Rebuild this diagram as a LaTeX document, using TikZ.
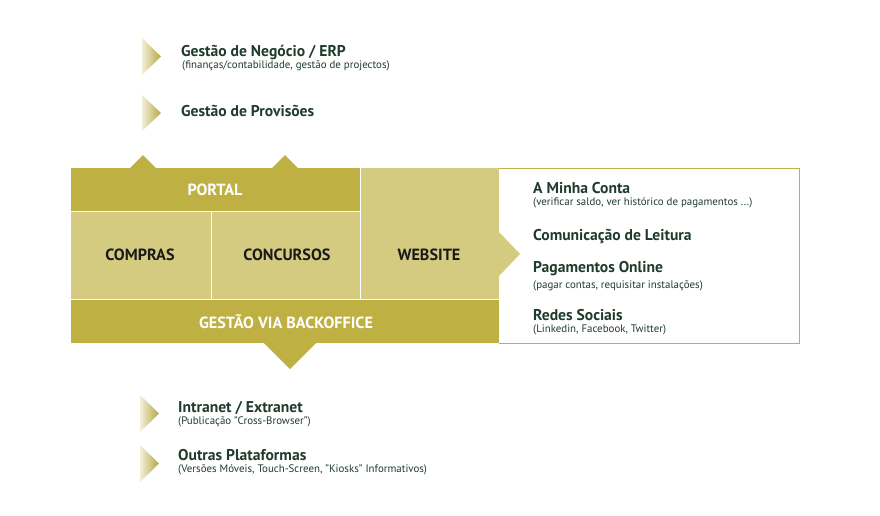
\documentclass[tikz,border=0pt]{standalone}
\usepackage{fontspec}
\setmainfont{PT Sans}
\newfontfamily\hdfont{PT Sans}
\newfontfamily\lbfont{PT Sans}
\definecolor{oliveD}{HTML}{BEB042}
\definecolor{oliveL}{HTML}{D4CB81}
\definecolor{txtG}{HTML}{1F3B2B}
\definecolor{txtB}{HTML}{1A1A1A}
\tikzset{
  head/.style={anchor=base west, inner sep=0pt, text=txtG, font=\hdfont\bfseries\fontsize{15.6}{17}\selectfont},
  sub/.style={anchor=base west, inner sep=0pt, text=txtG, font=\fontsize{10.9}{12}\selectfont},
  boxlbl/.style={inner sep=0pt, font=\lbfont\bfseries\fontsize{16.2}{18}\selectfont},
  wlbl/.style={boxlbl, text=white},
  dlbl/.style={boxlbl, text=txtB},
  sep/.style={draw=white, line width=1pt},
  bullet/.style={left color=oliveD!20, right color=oliveD!95!black}
}
\begin{document}
\begin{tikzpicture}[x=1pt,y=-1pt]
\useasboundingbox (0,0) rectangle (880,515);
% outer right box
\draw[oliveD, line width=0.8pt] (499,168.5) -- (799,168.5) -- (799,343) -- (499,343);
% blocks
\fill[oliveD] (71,168) rectangle (360,211);
\fill[oliveD] (130,168) -- (143,155) -- (156,168) -- cycle;
\fill[oliveD] (272,168) -- (285,155) -- (298,168) -- cycle;
\fill[oliveL] (71,211) rectangle (360,299);
\fill[oliveL] (360,168) rectangle (499,299);
\fill[oliveL] (499,232) -- (520,254) -- (499,276) -- cycle;
\fill[oliveD] (71,299) rectangle (499,343);
\fill[oliveD] (264,343) -- (290,369) -- (316,343) -- cycle;
% separators
\draw[sep] (71,211) -- (360,211);
\draw[sep] (211,211) -- (211,299);
\draw[sep] (360,168) -- (360,299);
\draw[sep] (71,299) -- (499,299);
% labels
\node[wlbl] (portal) at (215,190) {PORTAL};
\node[dlbl] (compras) at (140,255) {COMPRAS};
\node[dlbl] (concursos) at (287,255) {CONCURSOS};
\node[dlbl] (website) at (429,255) {WEBSITE};
\node[wlbl] (backoffice) at (286,322) {GESTÃO VIA BACKOFFICE};
% side bullets
\shade[bullet] (142,38) -- (161,56.5) -- (142,75) -- cycle;
\shade[bullet] (142,95) -- (161,113) -- (142,131) -- cycle;
\shade[bullet] (140,395) -- (159,413.5) -- (140,432) -- cycle;
\shade[bullet] (140,445) -- (159,463.5) -- (140,482) -- cycle;
% top texts
\node[head] (erp) at (181,56) {Gestão de Negócio / ERP};
\node[sub] (erps) at (182,68) {(finanças/contabilidade, gestão de projectos)};
\node[head] (prov) at (181,116) {Gestão de Provisões};
% right texts
\node[head] (conta) at (533,193) {A Minha Conta};
\node[sub] (contas) at (533,205) {(verificar saldo, ver histórico de pagamentos ...)};
\node[head] (leit) at (533,240) {Comunicação de Leitura};
\node[head] (pag) at (533,272) {Pagamentos Online};
\node[sub] (pags) at (533,288) {(pagar contas, requisitar instalações)};
\node[head] (redes) at (533,320) {Redes Sociais};
\node[sub] (redess) at (533,332) {(Linkedin, Facebook, Twitter)};
% bottom texts
\node[head] (intra) at (178,412) {Intranet / Extranet};
\node[sub] (intras) at (178,424) {(Publicação "Cross-Browser")};
\node[head] (outras) at (178,460) {Outras Plataformas};
\node[sub] (outrass) at (178,472) {(Versões Móveis, Touch-Screen, "Kiosks" Informativos)};
\end{tikzpicture}
\end{document}
